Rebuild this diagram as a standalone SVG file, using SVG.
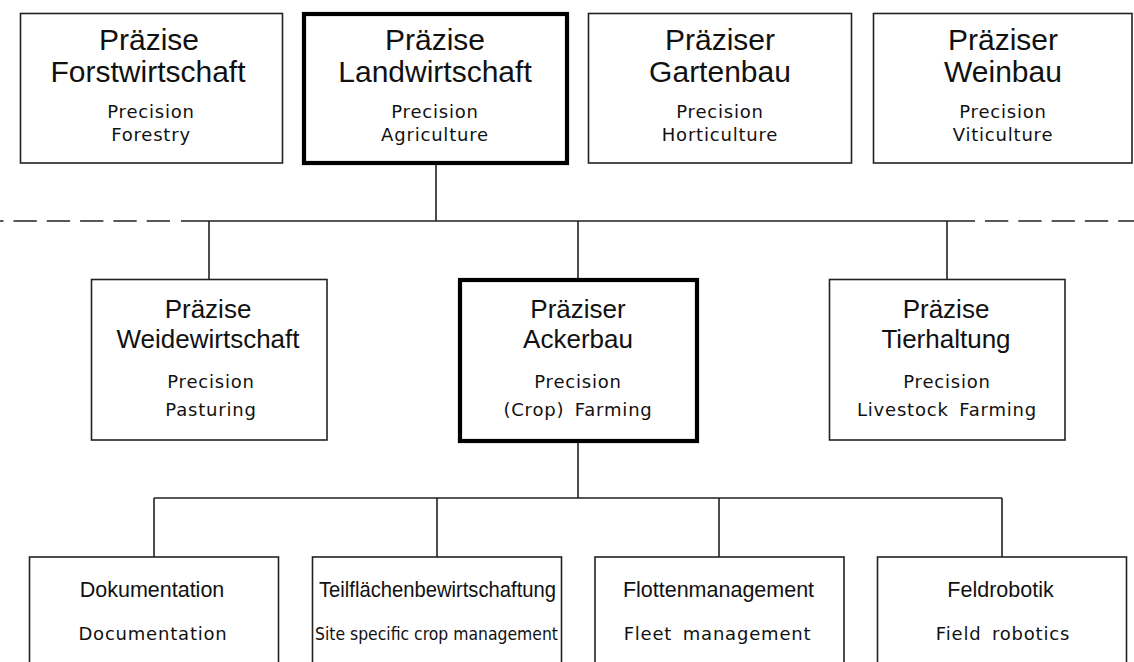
<svg xmlns="http://www.w3.org/2000/svg" width="1134" height="662" viewBox="0 0 1134 662">
<style>
.box{fill:#fff;stroke:#222;stroke-width:1.6}
.thick{fill:#fff;stroke:#000;stroke-width:4.2}
.ln{fill:none;stroke:#222;stroke-width:1.6}
.dash{fill:none;stroke:#222;stroke-width:1.6;stroke-dasharray:23.3 10}
.h1{font-family:"Liberation Sans",Arial,sans-serif;font-size:30px;fill:#111;text-anchor:middle}
.h2{font-family:"Liberation Sans",Arial,sans-serif;font-size:26px;fill:#111;text-anchor:middle}
.h3{font-family:"Liberation Sans",Arial,sans-serif;font-size:21.5px;fill:#111;text-anchor:middle}
.s{font-family:"DejaVu Sans",sans-serif;font-size:18px;fill:#111;text-anchor:middle;letter-spacing:0.8px;word-spacing:4px}
</style>
<rect width="1134" height="662" fill="#fff"/>
<g id="separator">
<path class="dash" d="M170,221 H0"/>
<path class="dash" d="M985,221 H1134"/>
</g>
<g id="connectors">
<path class="ln" d="M436,165 V221 M181,221 H975 M209,221 V279 M578,221 V279 M947,221 V279"/>
<path class="ln" d="M578,443 V498 M154,498 H1002 M154,498 V557 M437,498 V557 M719,498 V557 M1002,498 V557"/>
</g>
<g id="n-forst">
<rect class="box" x="20.5" y="13.5" width="262" height="149.5"/>
<text class="h1" x="149" y="50">Präzise</text>
<text class="h1" x="148" y="81.7">Forstwirtschaft</text>
<text class="s" x="151" y="118.3">Precision</text>
<text class="s" x="151" y="141.3">Forestry</text>
</g>
<g id="n-land">
<rect class="thick" x="304" y="14" width="263" height="149"/>
<text class="h1" x="435" y="50">Präzise</text>
<text class="h1" x="435" y="81.7">Landwirtschaft</text>
<text class="s" x="435" y="118.3">Precision</text>
<text class="s" x="435" y="141.3">Agriculture</text>
</g>
<g id="n-garten">
<rect class="box" x="588.5" y="13.5" width="263" height="149.5"/>
<text class="h1" x="720" y="50">Präziser</text>
<text class="h1" x="720" y="81.7">Gartenbau</text>
<text class="s" x="720" y="118.3">Precision</text>
<text class="s" x="720" y="141.3">Horticulture</text>
</g>
<g id="n-wein">
<rect class="box" x="873.5" y="13.5" width="258.5" height="149.5"/>
<text class="h1" x="1003" y="50">Präziser</text>
<text class="h1" x="1003" y="81.7">Weinbau</text>
<text class="s" x="1003" y="118.3">Precision</text>
<text class="s" x="1003" y="141.3">Viticulture</text>
</g>
<g id="n-weide">
<rect class="box" x="91.5" y="279.5" width="235.5" height="160.5"/>
<text class="h2" x="208" y="318.3">Präzise</text>
<text class="h2" x="208" y="348.3">Weidewirtschaft</text>
<text class="s" x="211" y="388.3">Precision</text>
<text class="s" x="211" y="415.5">Pasturing</text>
</g>
<g id="n-acker">
<rect class="thick" x="460" y="280" width="237" height="161"/>
<text class="h2" x="578" y="318.3">Präziser</text>
<text class="h2" x="578" y="348.3">Ackerbau</text>
<text class="s" x="578" y="388.3">Precision</text>
<text class="s" x="578" y="415.5">(Crop) Farming</text>
</g>
<g id="n-tier">
<rect class="box" x="829.5" y="279.5" width="235.5" height="160.5"/>
<text class="h2" x="946" y="318.3">Präzise</text>
<text class="h2" x="946" y="348.3">Tierhaltung</text>
<text class="s" x="947" y="388.3">Precision</text>
<text class="s" x="947" y="415.5">Livestock Farming</text>
</g>
<g id="n-doku">
<rect class="box" x="29.5" y="557" width="249" height="110"/>
<text class="h3" x="152" y="597">Dokumentation</text>
<text class="s" x="153" y="640">Documentation</text>
</g>
<g id="n-teil">
<rect class="box" x="312.5" y="557" width="249" height="110"/>
<text class="h3" x="437.5" y="597" textLength="237" lengthAdjust="spacingAndGlyphs">Teilflächenbewirtschaftung</text>
<text class="s" x="436.5" y="640" textLength="243" lengthAdjust="spacingAndGlyphs" style="letter-spacing:0;word-spacing:0">Site specific crop management</text>
</g>
<g id="n-flotten">
<rect class="box" x="595" y="557" width="249" height="110"/>
<text class="h3" x="718.5" y="597">Flottenmanagement</text>
<text class="s" x="717.5" y="640">Fleet management</text>
</g>
<g id="n-feld">
<rect class="box" x="877.5" y="557" width="249" height="110"/>
<text class="h3" x="1000.5" y="597">Feldrobotik</text>
<text class="s" x="1003" y="640">Field robotics</text>
</g>
</svg>
